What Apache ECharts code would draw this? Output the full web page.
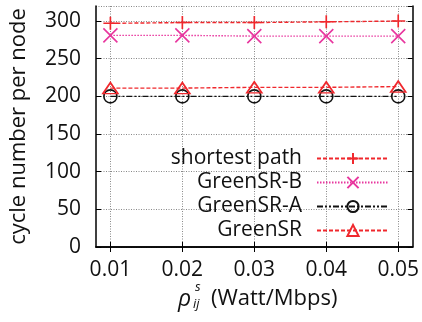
<!DOCTYPE html>
<html>
<head>
<meta charset="utf-8">
<script src="https://cdn.jsdelivr.net/npm/echarts@6/dist/echarts.min.js"></script>
<style>html,body{margin:0;padding:0;background:#fff}#c{width:422px;height:322px}</style>
</head>
<body>
<div id="c"></div>
<script>
const xValues = [0.01, 0.02, 0.03, 0.04, 0.05];
const seriesNames = ['shortest path', 'GreenSR-B', 'GreenSR-A', 'GreenSR'];
const shortestPath = [297, 298, 298, 299, 300];
const greenSRB = [281, 281, 280, 280, 280];
const greenSRA = [200, 200, 200, 200, 200];
const greenSR = [211, 211, 212, 212, 213];
const yMin = 0, yMax = 320, yStep = 50;

const FONT = 'Open Sans';
const RED = '#f0282d', PINK = '#e8369e', BLACK = '#111';
const pair = arr => xValues.map((x, i) => [x, arr[i]]);

function mk(name, data, color, dash, symbol, size) {
  return {
    name, type: 'line', data: pair(data),
    symbol, symbolSize: size,
    lineStyle: { color, width: 1.4, type: dash },
    itemStyle: { color: 'rgba(0,0,0,0)', borderColor: color, borderWidth: 1.6 },
    emphasis: { disabled: true },
    animation: false, z: 3
  };
}

const chart = echarts.init(document.getElementById('c'), null, { renderer: 'canvas' });
const tickStyle = { show: true, inside: true, length: 5, lineStyle: { color: '#000', width: 1 } };
chart.setOption({
  animation: false,
  grid: { left: 96, right: 3, top: 6, bottom: 75, show: false },
  xAxis: [{
    type: 'value', min: 0.008, max: 0.052,
    axisLine: { show: true, lineStyle: { color: '#000', width: 1.5 } },
    axisTick: Object.assign({}, tickStyle, { customValues: xValues }),
    axisLabel: { customValues: xValues, formatter: v => v.toFixed(2), fontFamily: FONT, fontSize: 21, color: '#111', margin: 13 },
    splitLine: { show: true, lineStyle: { color: '#888', width: 1, type: [1, 1.5] } }
  }, {
    type: 'value', min: 0.008, max: 0.052, position: 'top',
    axisLine: { show: true, lineStyle: { color: '#000', width: 1.5 } },
    axisTick: Object.assign({}, tickStyle, { customValues: xValues }),
    axisLabel: { show: false }, splitLine: { show: false }
  }],
  yAxis: [{
    type: 'value', min: yMin, max: yMax, interval: yStep,
    name: 'cycle number per node', nameLocation: 'middle', nameGap: 66,
    nameTextStyle: { fontFamily: FONT, fontSize: 22, color: '#111' },
    axisLine: { show: true, lineStyle: { color: '#000', width: 1.5 } },
    axisTick: tickStyle,
    axisLabel: { fontFamily: FONT, fontSize: 21, color: '#111', margin: 15, showMaxLabel: false },
    splitLine: { show: true, lineStyle: { color: '#888', width: 1, type: [1, 1.5] } }
  }, {
    type: 'value', min: yMin, max: yMax, interval: yStep, position: 'right',
    axisLine: { show: true, lineStyle: { color: '#000', width: 1.5 } },
    axisTick: tickStyle, axisLabel: { show: false }, splitLine: { show: false }
  }],
  legend: {
    orient: 'vertical', right: 27, top: 143, align: 'right',
    itemWidth: 72, itemHeight: 14, itemGap: 3,
    textStyle: { fontFamily: FONT, fontSize: 21, color: '#111', lineHeight: 20, padding: [0, 10, 0, 0] },
    data: seriesNames
  },
  series: [
    mk(seriesNames[0], shortestPath, RED, [4, 2], 'path://M0,5L10,5M5,0L5,10', [14, 13]),
    mk(seriesNames[1], greenSRB, PINK, [1.5, 1.5], 'path://M0,0L10,10M10,0L0,10', 14),
    mk(seriesNames[2], greenSRA, BLACK, [6, 2, 2, 2, 2, 2], 'circle', 13),
    mk(seriesNames[3], greenSR, RED, [4, 2], 'triangle', [15, 11])
  ],
  graphic: [
    { type: 'text', left: 178, top: 288, style: { text: 'ρ', font: 'italic 23px "' + FONT + '"', fill: '#111' } },
    { type: 'text', left: 195, top: 281, style: { text: 's', font: 'italic 13px "' + FONT + '"', fill: '#111' } },
    { type: 'text', left: 193, top: 298, style: { text: 'ij', font: 'italic 13px "' + FONT + '"', fill: '#111' } },
    { type: 'text', left: 211, top: 288, style: { text: '(Watt/Mbps)', font: '22px "' + FONT + '"', fill: '#111' } }
  ]
});
</script>
</body>
</html>
